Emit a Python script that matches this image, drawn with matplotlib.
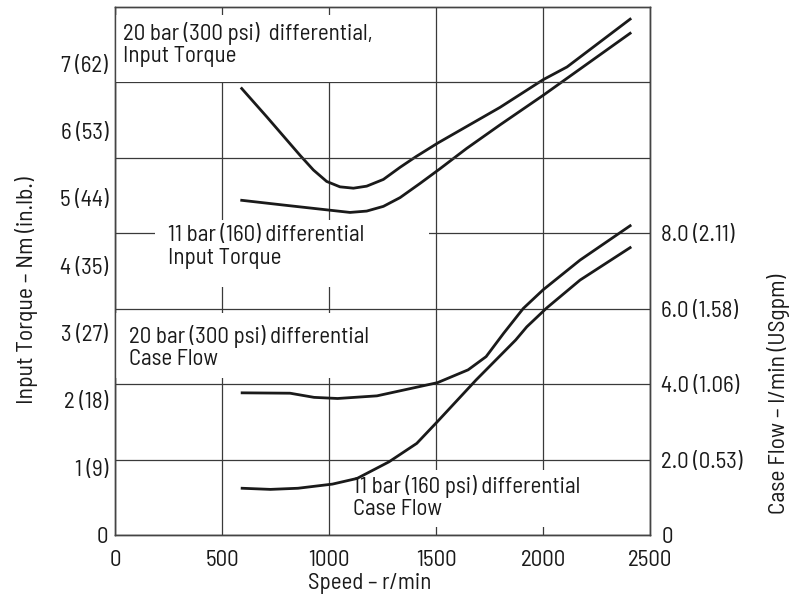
import matplotlib
matplotlib.use("Agg")
import matplotlib.pyplot as plt
from matplotlib.patches import Rectangle

plt.rcParams["font.family"] = ["Barlow Semi Condensed", "Barlow Condensed", "DejaVu Sans"]
plt.rcParams["font.weight"] = "normal"

# Input torque curves (speed r/min, torque Nm)
speed_t20 = [592, 709, 864, 927, 989, 1051, 1114, 1176, 1254, 1332, 1407, 1508, 1799, 2000, 2112, 2407]
torque_20 = [6.63, 6.21, 5.64, 5.42, 5.25, 5.17, 5.15, 5.18, 5.28, 5.46, 5.62, 5.82, 6.35, 6.76, 6.95, 7.66]

speed_t11 = [592, 786, 1013, 1098, 1176, 1254, 1332, 1425, 1519, 1643, 1799, 2001, 2407]
torque_11 = [4.97, 4.90, 4.82, 4.79, 4.81, 4.88, 5.01, 5.22, 5.44, 5.74, 6.09, 6.53, 7.45]

# Case flow curves (speed r/min, flow l/min)
speed_f20 = [594, 818, 930, 1040, 1224, 1507, 1650, 1734, 1816, 1908, 2000, 2173, 2407]
flow_20 = [3.77, 3.76, 3.65, 3.62, 3.69, 4.04, 4.38, 4.73, 5.35, 6.01, 6.50, 7.29, 8.20]

speed_f11 = [594, 726, 855, 1016, 1131, 1280, 1410, 1507, 1687, 1872, 1924, 2017, 2173, 2407]
flow_11 = [1.24, 1.21, 1.24, 1.35, 1.50, 1.94, 2.43, 3.01, 4.11, 5.17, 5.52, 6.02, 6.76, 7.62]

# axis ticks
x_ticks = [0, 500, 1000, 1500, 2000, 2500]
torque_ticks = [0, 1, 2, 3, 4, 5, 6, 7]
torque_labels = ["0", "1 (9)", "2 (18)", "3 (27)", "4 (35)", "5 (44)", "6 (53)", "7 (62)"]
flow_ticks = [0, 2, 4, 6, 8, 10, 12]
flow_labels = ["0", "2.0 (0.53)", "4.0 (1.06)", "6.0 (1.58)", "8.0 (2.11)", "", ""]

fs = 16.5
ink = "#1a1a1a"
grid_c = "#3a3a3a"

fig = plt.figure(figsize=(8.06, 6), dpi=100)
ax = fig.add_axes([0.1427, 0.1083, 0.6638, 0.88])
ax2 = ax.twinx()

ax.set_xlim(0, 2500)
ax.set_ylim(0, 7.84)
ax2.set_ylim(0, 14)

ax.set_xticks(x_ticks)
ax.set_xticklabels([str(v) for v in x_ticks])
ax.set_yticks(torque_ticks)
ax.set_yticklabels(torque_labels)
ax2.set_yticks(flow_ticks)
ax2.set_yticklabels(flow_labels)

ax.tick_params(axis="x", length=0, pad=11, labelsize=fs, labelcolor=ink)
ax.tick_params(axis="y", length=0, pad=5, labelsize=fs, labelcolor=ink)
ax2.tick_params(axis="y", length=0, pad=8, labelsize=fs, labelcolor=ink)

ax.grid(axis="x", color=grid_c, lw=0.9)
ax.grid(axis="y", visible=False)
ax2.grid(axis="y", color=grid_c, lw=0.9)
ax.set_axisbelow(True)
ax2.set_axisbelow(True)

for a in (ax, ax2):
    for s in a.spines.values():
        s.set_color("#444444")
        s.set_linewidth(1.0)
        s.set_zorder(10)

ax.plot(speed_t20, torque_20, color=ink, lw=2.0, zorder=3)
ax.plot(speed_t11, torque_11, color=ink, lw=2.0, zorder=3)
ax2.plot(speed_f20, flow_20, color=ink, lw=2.0, zorder=5.5)
ax2.plot(speed_f11, flow_11, color=ink, lw=2.0, zorder=5.5)

# white label boxes that break the grid
boxes = [
    (0.0, 0.858, 0.533, 0.127),
    (0.075, 0.470, 0.512, 0.127),
    (0.0, 0.297, 0.525, 0.123),
    (0.439, 0.015, 0.467, 0.108),
]
for x0, y0, w, h in boxes:
    ax2.add_patch(Rectangle((x0, y0), w, h, transform=ax2.transAxes,
                            facecolor="white", edgecolor="none", zorder=5))

notes = [
    (0.015, 0.972, "20 bar (300 psi)  differential,\nInput Torque"),
    (0.099, 0.587, "11 bar (160) differential\nInput Torque"),
    (0.026, 0.398, "20 bar (300 psi) differential\nCase Flow"),
    (0.445, 0.114, "11 bar (160 psi) differential\nCase Flow"),
]
for x, y, s in notes:
    ax2.text(x, y, s, transform=ax2.transAxes, ha="left", va="top",
             fontsize=fs, color=ink, linespacing=1.1, zorder=6)

fig.text(27 / 806, 1 - 290 / 600, "Input Torque – Nm (in.lb.)", rotation=90,
         ha="center", va="center", fontsize=fs + 0.5, color=ink)
fig.text(778 / 806, 1 - 394 / 600, "Case Flow – l/min (USgpm)", rotation=90,
         ha="center", va="center", fontsize=fs + 0.5, color=ink)
fig.text(370 / 806, 1 - 583 / 600, "Speed – r/min", ha="center", va="center",
         fontsize=fs, color=ink)

fig.savefig("out.png", dpi=100, facecolor="white")
